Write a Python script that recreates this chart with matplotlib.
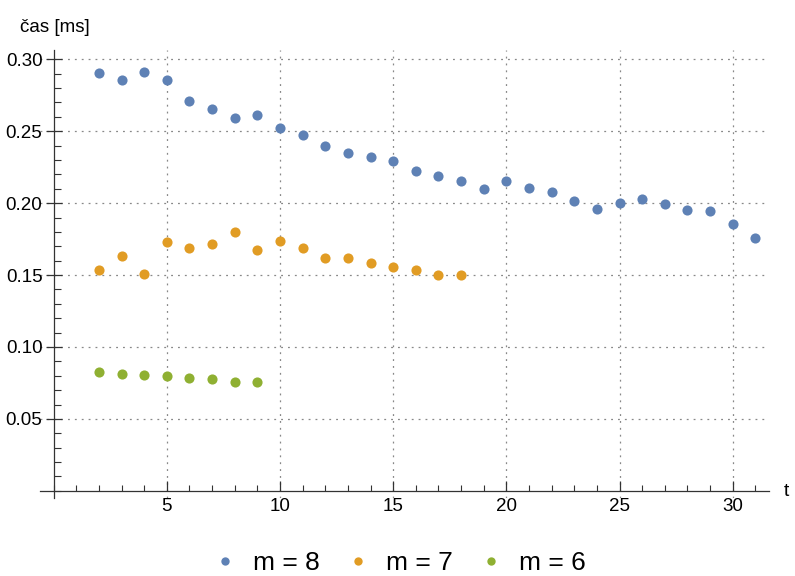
import matplotlib
matplotlib.use("Agg")
import matplotlib.pyplot as plt
from matplotlib.ticker import MultipleLocator, FixedLocator
from matplotlib.lines import Line2D

plt.rcParams['font.family'] = ['Liberation Sans', 'DejaVu Sans']

t8 = list(range(2, 32))
m8 = [0.2905, 0.2858, 0.2914, 0.2858, 0.2708, 0.2655, 0.2594, 0.2611, 0.2521,
      0.2477, 0.2398, 0.2347, 0.2319, 0.2292, 0.2222, 0.2189, 0.2155, 0.2101,
      0.2157, 0.2108, 0.2078, 0.2013, 0.1958, 0.2004, 0.2031, 0.1997, 0.1955,
      0.1943, 0.1858, 0.1756]
t7 = list(range(2, 19))
m7 = [0.1535, 0.1632, 0.1509, 0.1727, 0.1686, 0.1717, 0.1803, 0.1674, 0.1740,
      0.1686, 0.1620, 0.1621, 0.1583, 0.1554, 0.1532, 0.1501, 0.1498]
t6 = list(range(2, 10))
m6 = [0.0826, 0.0814, 0.0803, 0.0796, 0.0781, 0.0780, 0.0760, 0.0755]

labels = ['m = 8', 'm = 7', 'm = 6']
colors = ['#5E81B5', '#E19C24', '#8FB032']

fig = plt.figure(figsize=(7.95, 5.76), dpi=100)
ax = fig.add_axes([40/795, 1-498/576, (769-40)/795, (498-50)/576])

for t, v, c in zip([t8, t7, t6], [m8, m7, m6], colors):
    ax.plot(t, v, 'o', color=c, markersize=7.3, markeredgewidth=0, zorder=3)

ax.set_xlim(-0.6, 31.6)
ax.set_ylim(-0.005, 0.3065)

for s in ['top', 'right']:
    ax.spines[s].set_visible(False)
ax.spines['left'].set_position(('data', 0))
ax.spines['bottom'].set_position(('data', 0))
for s in ['left', 'bottom']:
    ax.spines[s].set_color('#333333')
    ax.spines[s].set_linewidth(0.9)

ax.xaxis.set_major_locator(FixedLocator([5, 10, 15, 20, 25, 30]))
ax.xaxis.set_minor_locator(MultipleLocator(1))
ax.yaxis.set_major_locator(FixedLocator([0.05, 0.10, 0.15, 0.20, 0.25, 0.30]))
ax.yaxis.set_minor_locator(MultipleLocator(0.01))
ax.set_yticklabels(['0.05', '0.10', '0.15', '0.20', '0.25', '0.30'])

ax.tick_params(axis='x', which='major', direction='in', length=7, width=0.9,
               color='#333333', labelsize=13.5, pad=5)
ax.tick_params(axis='x', which='minor', direction='in', length=4, width=0.8, color='#333333')
ax.tick_params(axis='y', which='major', direction='inout', length=12, width=0.9,
               color='#333333', labelsize=13.5, pad=2)
ax.tick_params(axis='y', which='minor', direction='in', length=5, width=0.8, color='#333333')

ax.grid(True, which='major', linestyle=(0, (1.5, 4)), color='#888888', linewidth=0.9)

fig.text(20/795, 1-27/576, 'čas [ms]', fontsize=13.5, va='center', ha='left')
fig.text(784/795, 1-492/576, 't', fontsize=14, va='center', ha='left')

handles = [Line2D([], [], marker='o', linestyle='none', color=c, markersize=6,
                  markeredgewidth=0) for c in colors]
fig.legend(handles, labels, loc='center', bbox_to_anchor=(0.5, 1-563/576),
           ncol=3, frameon=False, fontsize=19, handletextpad=0.45,
           columnspacing=0.85, handlelength=1.2)

fig.savefig('out.png', dpi=100)
